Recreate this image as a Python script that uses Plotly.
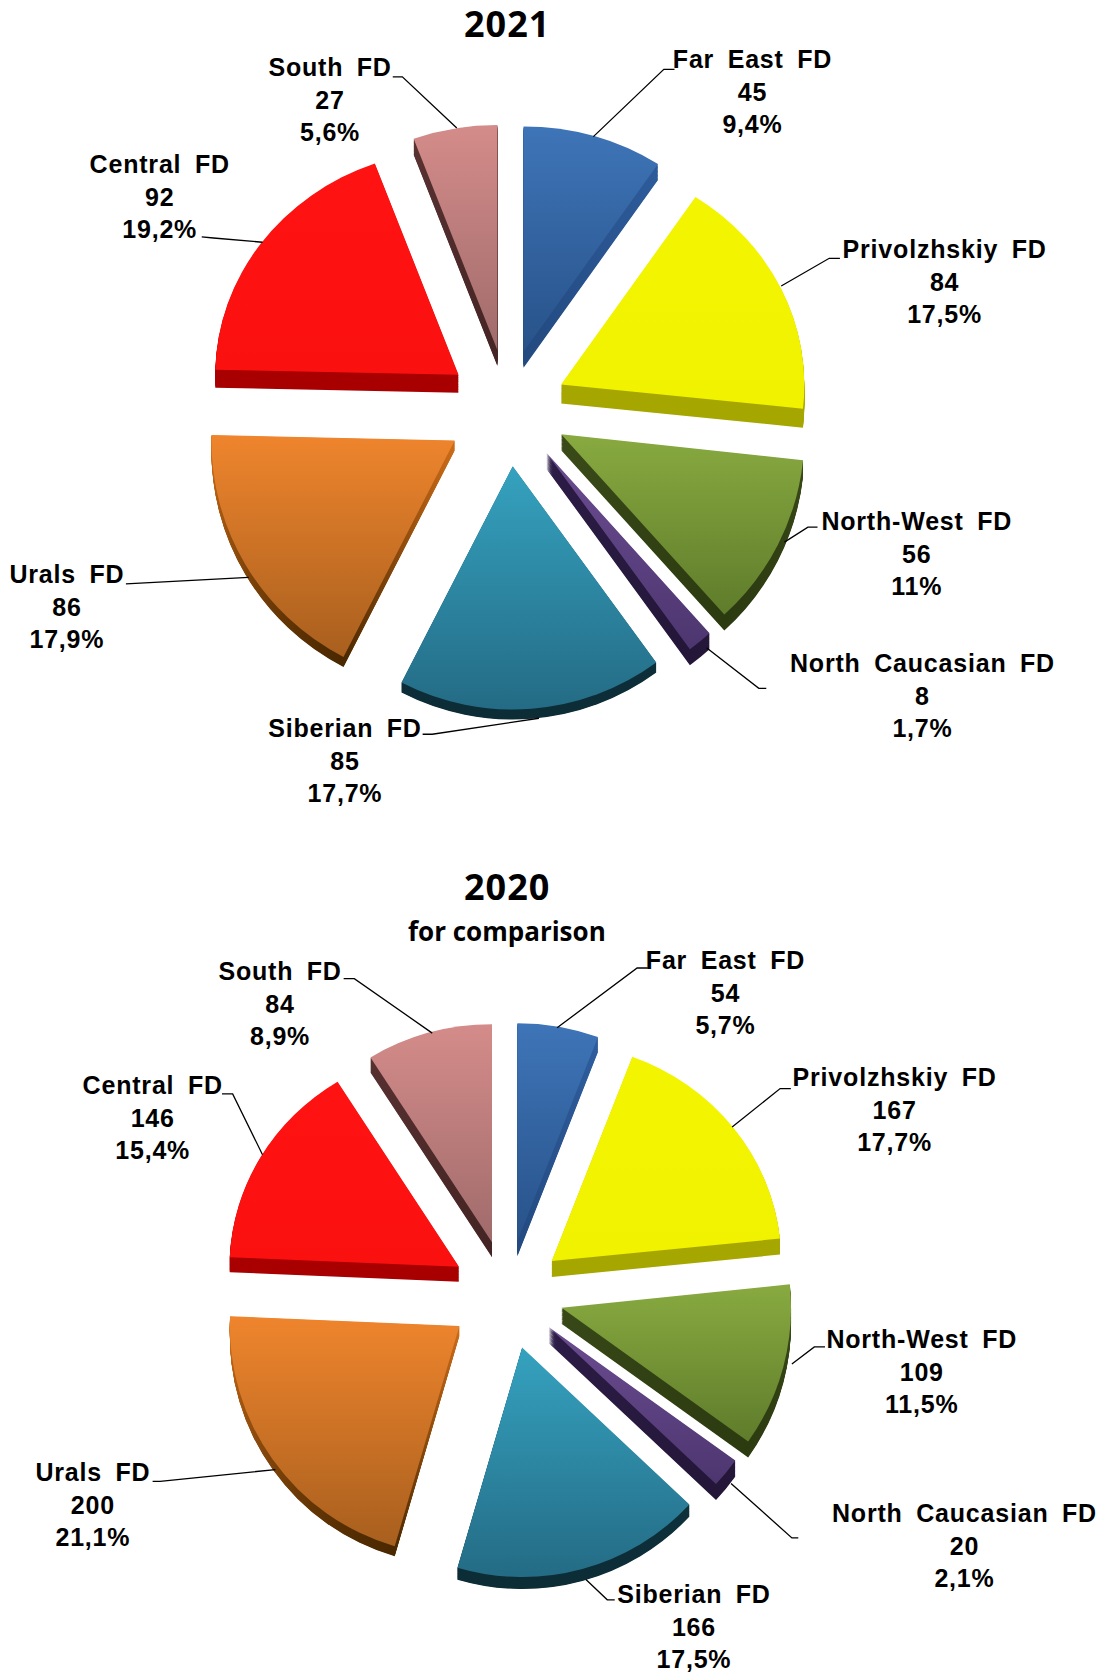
import json
import plotly.graph_objects as go

W, H = 1111, 1673
S = 1111 / 1041  # shrunk-picture to full-size factor

regions = ["Far East FD", "Privolzhskiy FD", "North-West FD", "North Caucasian FD",
           "Siberian FD", "Urals FD", "Central FD", "South FD"]
values_2021 = [45, 84, 56, 8, 85, 86, 92, 27]
shares_2021 = ["9,4%", "17,5%", "11%", "1,7%", "17,7%", "17,9%", "19,2%", "5,6%"]
values_2020 = [54, 167, 109, 20, 166, 200, 146, 84]
shares_2020 = ["5,7%", "17,7%", "11,5%", "2,1%", "17,5%", "21,1%", "15,4%", "8,9%"]

top_from = ["#3e75b8", "#f3f500", "#88aa40", "#6b4c90", "#35a2bf", "#ef852d", "#ff1212", "#d48c8a"]
top_to = ["#285289", "#f1f200", "#5f7c2b", "#4d3670", "#246b85", "#a85f1e", "#fb1010", "#a06b6b"]
side_from = ["#2f5e9f", "#a9a900", "#3a4a18", "#2c1c46", "#123a46", "#cf6d18", "#b00000", "#5a3232"]
side_to = ["#234a80", "#a6a600", "#2c3a10", "#241638", "#0c2c36", "#4a2800", "#a80000", "#442424"]

# pie geometry in px of the full picture; far slices are foreshortened, near ones are not
PULL_2021, R_2021, CX_2021, CY_2021 = 0.25, 243.3, 508, 405.5
PULL_2020, R_2020, CX_2020, CY_2020 = 0.244, 229.5, 507.4, 1293.5
squash_2021 = [0.925, 0.925, 1, 1, 1, 1, 0.925, 0.925]
squash_2020 = [0.95, 0.95, 1, 1, 1, 1, 0.95, 0.95]
depth_2021 = [16, 19, 16, 16, 10, 10, 18, 16]
depth_2020 = [15, 16, 16, 16, 12, 10, 15, 15]
shift_x_2021 = [-2, -2, -1, 0, 0, -1, 0, 0]
shift_y_2021 = [0, 3, 1, 0, 0, 4, 2, 0]
shift_x_2020 = [0, 0, 0, -2, 0, -2.5, 0, 0]
shift_y_2020 = [0, 0, 0, -2, 0, 0, 0, 0]
LAYERS = 20

label_pos_2021 = [(705, 86), (885, 264), (859, 519), (864, 652), (323, 713), (63, 568), (149, 184), (309, 93)]
label_pos_2020 = [(680, 930), (838, 1040), (864, 1285), (904, 1448), (650, 1524), (87, 1410), (143, 1047), (262, 940)]

leaders_2021 = [
    [(632, 65), (622, 65), (556, 128)], [(787, 242), (777, 242), (732, 268)],
    [(766, 494), (757, 494), (735, 508)], [(718, 645), (711, 645), (662, 607)],
    [(396, 688), (405, 688), (505, 673)], [(118, 547), (233, 541)],
    [(189, 222), (200, 223), (246, 227)], [(368, 72), (377, 72), (428, 120)],
]
leaders_2020 = [
    [(607, 907), (597, 907), (522, 963)], [(741, 1020), (731, 1020), (686, 1056)],
    [(773, 1262), (763, 1262), (742, 1278)], [(748, 1441), (742, 1441), (685, 1390)],
    [(576, 1499), (569, 1499), (549, 1480)], [(143, 1388), (150, 1388), (258, 1377)],
    [(208, 1025), (218, 1025), (246, 1082)], [(322, 917), (332, 917), (405, 968)],
]

fig = go.Figure()
layer_info = []


def add_pie(values, pull, radius, cx, cy, squash, depth, sx, sy):
    size = 2 * radius * (1 + pull)
    for j in list(range(LAYERS, 0, -1)) + [0]:
        fig.add_trace(go.Pie(
            values=values, labels=regions, sort=False, direction="clockwise", rotation=0,
            pull=[pull] * len(values), textinfo="none", hoverinfo="skip", showlegend=False,
            marker=dict(colors=top_from if j == 0 else side_from, line=dict(width=0)),
            domain=dict(x=[(cx - size / 2) / W, (cx + size / 2) / W],
                        y=[1 - (cy + size / 2) / H, 1 - (cy - size / 2) / H]),
        ))
        layer_info.append(dict(c=cy, k=squash, x=sx, o=[s + d * j / LAYERS for s, d in zip(sy, depth)]))


add_pie(values_2021, PULL_2021, R_2021, CX_2021, CY_2021, squash_2021, depth_2021, shift_x_2021, shift_y_2021)
add_pie(values_2020, PULL_2020, R_2020, CX_2020, CY_2020, squash_2020, depth_2020, shift_x_2020, shift_y_2020)


def note(text, x, y, size, family="Liberation Sans"):
    fig.add_annotation(text=text, x=x * S / W, y=1 - y * S / H, xref="paper", yref="paper",
                       showarrow=False, xanchor="center", yanchor="middle", align="center",
                       font=dict(family=family, size=size, color="#000000"))


for vals, shares, spots in ((values_2021, shares_2021, label_pos_2021),
                            (values_2020, shares_2020, label_pos_2020)):
    for name, v, p, (x, y) in zip(regions, vals, shares, spots):
        note(f"<b>{name.replace(' ', '&nbsp;&#8201;')}<br>{v}<br>{p}</b>", x, y, 25)

note("<b>2021</b>", 475, 22, 36, "Open Sans")
note("<b>2020</b>", 475, 831, 36, "Open Sans")
note("<b>for comparison</b>", 475, 872, 26, "Open Sans")

for group in (leaders_2021, leaders_2020):
    for pts in group:
        path = "M " + " L ".join(f"{x * S / W:.5f},{1 - y * S / H:.5f}" for x, y in pts)
        fig.add_shape(type="path", path=path, xref="paper", yref="paper",
                      line=dict(color="#000000", width=1.3))

fig.update_layout(width=W, height=H, margin=dict(l=0, r=0, t=0, b=0),
                  paper_bgcolor="#ffffff", plot_bgcolor="#ffffff", showlegend=False)

gradients = [[a, b] for a, b in zip(top_from + side_from, top_to + side_to)]

post = """
document.body.style.margin='0';
var gd=document.querySelector('.plotly-graph-div');
var G=%s, L=%s;
function rgb(h){return 'rgb('+parseInt(h.slice(1,3),16)+', '+parseInt(h.slice(3,5),16)+', '+parseInt(h.slice(5,7),16)+')';}
var svg=gd.querySelector('svg.main-svg');
var ns='http://www.w3.org/2000/svg';
var defs=document.createElementNS(ns,'defs');svg.insertBefore(defs,svg.firstChild);
var map={};
G.forEach(function(p,i){
  var g=document.createElementNS(ns,'linearGradient');
  g.setAttribute('id','sg'+i);g.setAttribute('x1','0');g.setAttribute('y1','0');g.setAttribute('x2','0');g.setAttribute('y2','1');
  [[0,p[0]],[1,p[1]]].forEach(function(s){var t=document.createElementNS(ns,'stop');t.setAttribute('offset',s[0]);t.setAttribute('stop-color',s[1]);g.appendChild(t);});
  defs.appendChild(g);map[rgb(p[0])]=i;
});
gd.querySelectorAll('.pielayer .trace').forEach(function(tr,t){
  var info=L[t];
  tr.querySelectorAll('.slice path.surface').forEach(function(el,i){
    var f=el.style.fill;if(f in map){el.style.fill='url(#sg'+map[f]+')';}
    el.setAttribute('transform','translate('+info.x[i]+','+(info.c+info.o[i])+') scale(1,'+info.k[i]+') translate(0,'+(-info.c)+')');
  });
});
gd.querySelectorAll('.annotation-text').forEach(function(t){
  var fam=t.style.fontFamily||'';
  if(fam.indexOf('Liberation')>=0){t.style.letterSpacing='0.8px';}
  else if(/^20/.test(t.textContent)){t.style.letterSpacing='1px';}
});
""" % (json.dumps(gradients), json.dumps(layer_info))

fig.write_html("out.html", post_script=post, config=dict(displayModeBar=False))
